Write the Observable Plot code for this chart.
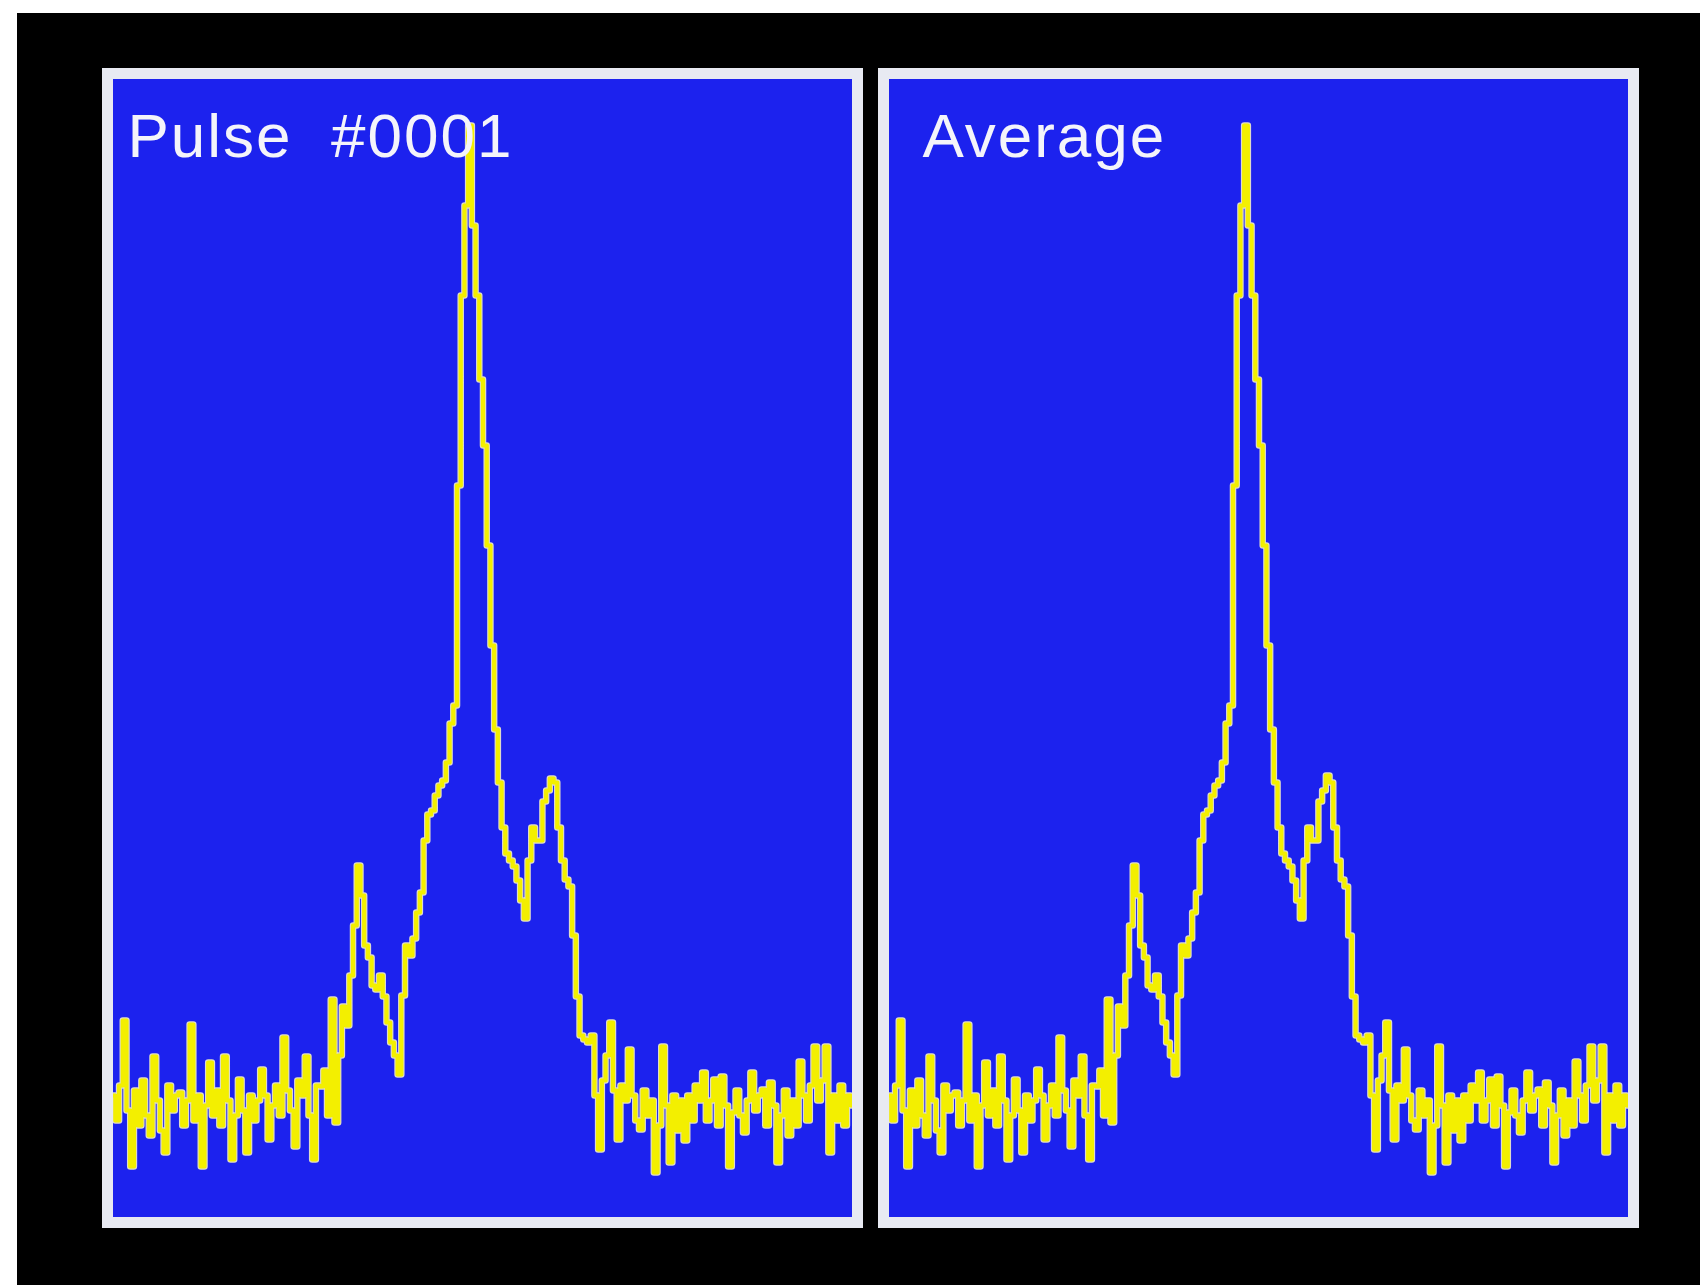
<!DOCTYPE html>
<html><head><meta charset="utf-8">
<script src="https://cdn.jsdelivr.net/npm/d3@7"></script>
<script src="https://cdn.jsdelivr.net/npm/@observablehq/plot@0.6"></script>
<style>
html,body{margin:0;padding:0;background:#fff;width:1700px;height:1285px;overflow:hidden;}
#bg{position:absolute;left:17px;top:13px;width:1683px;height:1272px;background:#000;}
.panel{position:absolute;top:68px;border:11px solid #e8eaf2;width:739px;height:1138px;line-height:0;background:#1c22ee;}
#p1{left:102px}
#p2{left:878px}
.panel svg text{letter-spacing:2px;}
</style></head><body>
<div id="bg"></div><div class="panel" id="p1"></div><div class="panel" id="p2"></div>
<script>
// Intensity per phase bin (arbitrary units, baseline 0)
const pulse = [
 1.0,-1.5,2.0,8.5,-0.5,-6.1,1.5,-2.0,2.5,-1.0,
 -3.0,4.9,0.5,-2.5,-4.7,2.0,-0.5,1.0,1.3,-2.0,
 0.5,8.1,-1.5,1.0,-6.1,0.0,4.3,-1.0,1.5,-2.0,
 4.9,0.5,-5.4,-1.0,2.6,-0.5,-4.7,1.0,-1.5,0.5,
 3.6,1.0,-3.4,0.0,2.0,-1.0,6.8,1.5,-0.5,-4.1,
 2.5,1.0,4.9,-1.0,-5.4,2.0,1.9,3.5,-1.0,10.6,
 -1.7,5.0,9.9,8.0,13.0,18.0,24.0,21.0,16.0,14.8,
 12.0,11.6,13.0,10.9,8.3,6.3,5.0,3.1,11.0,16.0,
 15.0,16.7,19.3,21.3,26.5,29.1,29.5,31.0,32.0,32.5,
 34.3,38.2,40.0,62.0,81.0,90.0,98.0,88.0,81.0,72.6,
 66.0,56.0,46.0,37.6,32.3,27.8,25.2,24.5,23.9,22.5,
 20.5,18.7,24.5,27.8,26.5,26.5,30.4,31.5,32.7,32.3,
 27.8,24.5,22.6,21.9,17.0,10.9,7.0,6.6,6.3,7.0,
 1.0,-4.4,2.5,5.0,8.3,1.5,-3.4,2.0,0.5,5.6,
 1.0,-1.5,-2.4,1.5,-1.0,0.5,-6.7,-2.0,5.9,0.0,
 -5.7,1.0,-2.5,0.5,-3.5,1.0,-1.5,2.0,0.5,3.3,
 -1.5,0.5,2.6,-2.0,2.9,0.0,-6.1,-0.7,1.5,-1.0,
 -2.7,0.5,3.3,-0.5,1.0,1.6,-2.0,2.3,0.0,-5.7,
 -1.0,1.5,-3.0,0.5,-2.0,4.4,1.0,-1.5,2.0,5.9,
 0.5,2.5,5.9,-4.7,1.0,-1.5,2.0,-2.0,1.0,0.0
];
// Running average after one pulse (identical profile)
const average = [
 1.0,-1.5,2.0,8.5,-0.5,-6.1,1.5,-2.0,2.5,-1.0,
 -3.0,4.9,0.5,-2.5,-4.7,2.0,-0.5,1.0,1.3,-2.0,
 0.5,8.1,-1.5,1.0,-6.1,0.0,4.3,-1.0,1.5,-2.0,
 4.9,0.5,-5.4,-1.0,2.6,-0.5,-4.7,1.0,-1.5,0.5,
 3.6,1.0,-3.4,0.0,2.0,-1.0,6.8,1.5,-0.5,-4.1,
 2.5,1.0,4.9,-1.0,-5.4,2.0,1.9,3.5,-1.0,10.6,
 -1.7,5.0,9.9,8.0,13.0,18.0,24.0,21.0,16.0,14.8,
 12.0,11.6,13.0,10.9,8.3,6.3,5.0,3.1,11.0,16.0,
 15.0,16.7,19.3,21.3,26.5,29.1,29.5,31.0,32.0,32.5,
 34.3,38.2,40.0,62.0,81.0,90.0,98.0,88.0,81.0,72.6,
 66.0,56.0,46.0,37.6,32.3,27.8,25.2,24.5,23.9,22.5,
 20.5,18.7,24.5,27.8,26.5,26.5,30.4,31.5,33.0,32.3,
 27.8,24.5,22.6,21.9,17.0,10.9,7.0,6.6,6.3,7.0,
 1.0,-4.4,2.5,5.0,8.3,1.5,-3.4,2.0,0.5,5.6,
 1.0,-1.5,-2.4,1.5,-1.0,0.5,-6.7,-2.0,5.9,0.0,
 -5.7,1.0,-2.5,0.5,-3.5,1.0,-1.5,2.0,0.5,3.3,
 -1.5,0.5,2.6,-2.0,2.9,0.0,-6.1,-0.7,1.5,-1.0,
 -2.7,0.5,3.3,-0.5,1.0,1.6,-2.0,2.3,0.0,-5.7,
 -1.0,1.5,-3.0,0.5,-2.0,4.4,1.0,-1.5,2.0,5.9,
 0.5,2.5,5.9,-4.7,1.0,-1.5,2.0,-2.0,1.0,0.0
];
const titles = ["Pulse\u00a0 #0001", "Average"];

function panel(values, title, dx) {
  return Plot.plot({
    width: 739, height: 1138, margin: 0,
    x: {domain: [0, values.length - 1], axis: null},
    y: {domain: [-11.2, 102.6], axis: null},
    style: {background: "#1c22ee", overflow: "hidden"},
    marks: [
      Plot.lineY(values, {x: (d, i) => i, y: d => d, curve: "step", stroke: "#dedbc8", strokeWidth: 6.5, clip: true}),
      Plot.lineY(values, {x: (d, i) => i, y: d => d, curve: "step", stroke: "#f3ef00", strokeWidth: 4.2, clip: true}),
      Plot.text([title], {frameAnchor: "top-left", text: d => d, dx: dx, dy: 77, lineAnchor: "bottom",
        textAnchor: "start", fill: "#f4f4fa", fontSize: 62, fontFamily: "Liberation Sans"})
    ]
  });
}
document.getElementById("p1").append(panel(pulse, titles[0], 14));
document.getElementById("p2").append(panel(average, titles[1], 33));
</script>
</body></html>
